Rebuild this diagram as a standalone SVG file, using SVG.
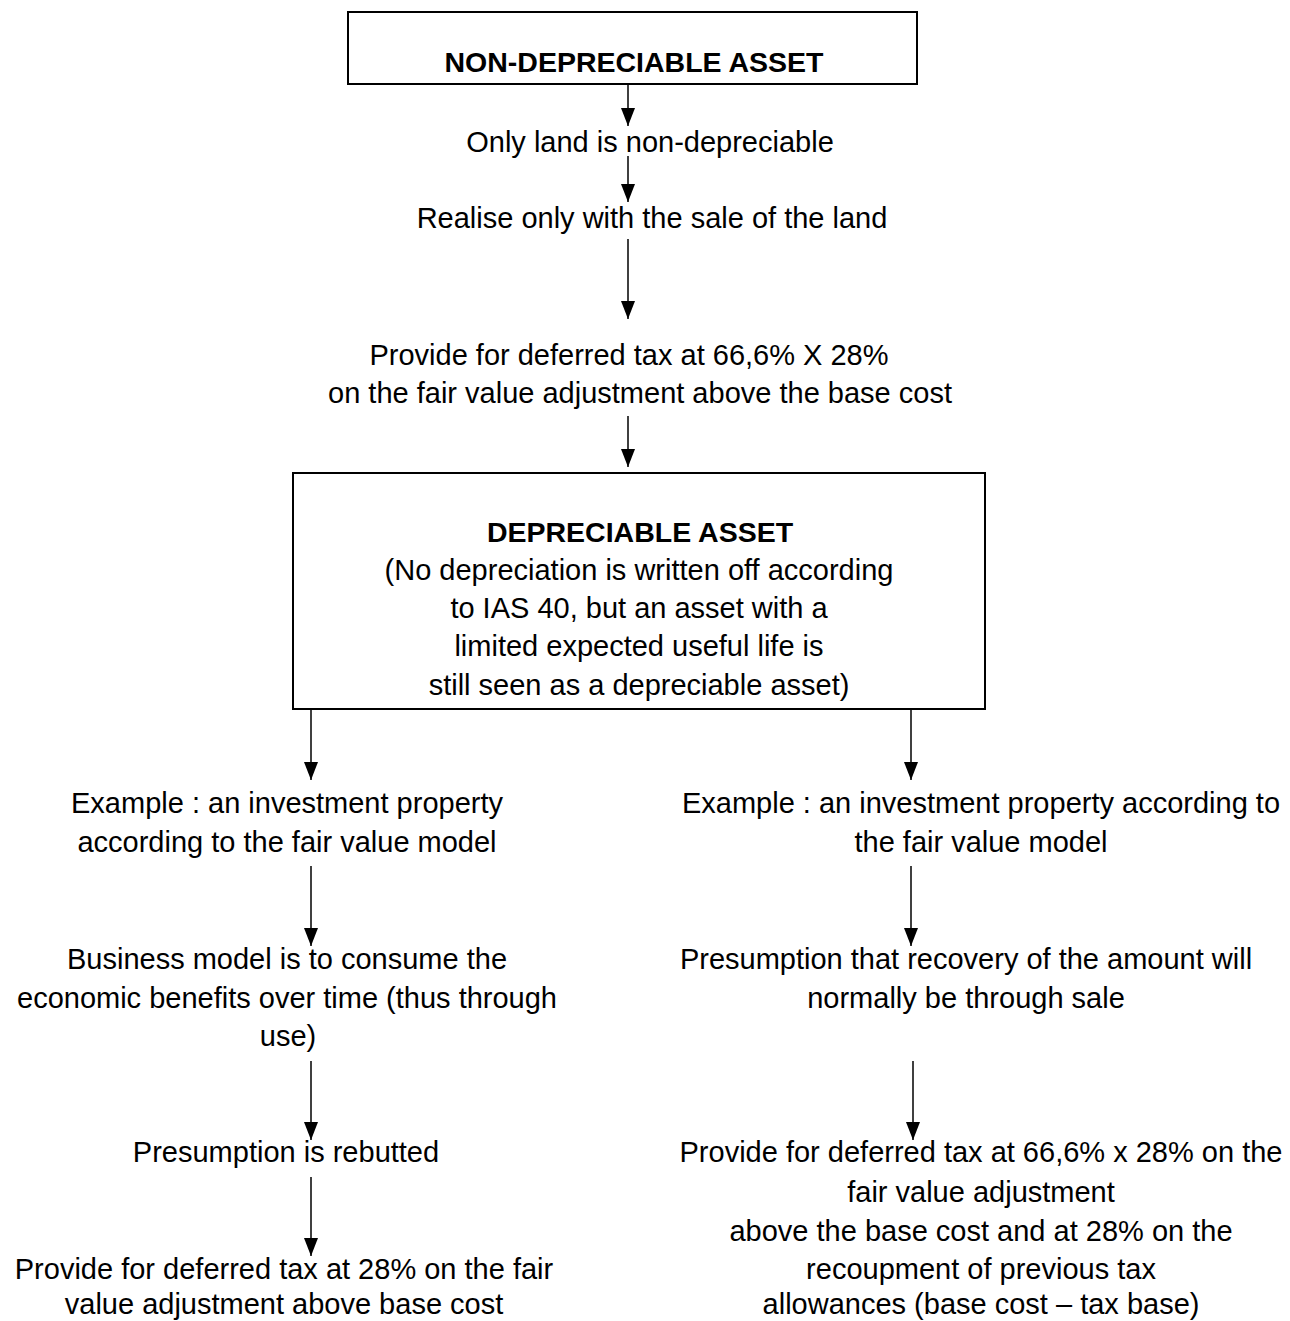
<svg xmlns="http://www.w3.org/2000/svg" width="1290" height="1321" viewBox="0 0 1290 1321">
<style>
text{font-family:"Liberation Sans",Arial,sans-serif;font-size:29px;fill:#000;text-anchor:middle}
.b{font-weight:bold;font-size:28.5px}
.box{fill:#fff;stroke:#000;stroke-width:2}
.c{stroke:#000;stroke-width:1.5;fill:none;marker-end:url(#ah)}
</style>
<defs>
<marker id="ah" markerUnits="userSpaceOnUse" markerWidth="18" markerHeight="14" refX="18" refY="7" orient="auto" viewBox="0 0 18 14">
<path d="M0,0 L18,7 L0,14 Z" fill="#000"/>
</marker>
</defs>
<rect width="1290" height="1321" fill="#fff"/>
<g id="connectors">
<line class="c" x1="628" y1="85" x2="628" y2="126"/>
<line class="c" x1="628" y1="156" x2="628" y2="202"/>
<line class="c" x1="628" y1="239" x2="628" y2="319"/>
<line class="c" x1="628" y1="416" x2="628" y2="467"/>
<line class="c" x1="311" y1="709" x2="311" y2="780"/>
<line class="c" x1="911" y1="709" x2="911" y2="780"/>
<line class="c" x1="311" y1="866" x2="311" y2="946"/>
<line class="c" x1="911" y1="866" x2="911" y2="946"/>
<line class="c" x1="311" y1="1061" x2="311" y2="1140"/>
<line class="c" x1="913" y1="1061" x2="913" y2="1140"/>
<line class="c" x1="311" y1="1177" x2="311" y2="1256"/>
</g>
<g id="n1"><rect class="box" x="348" y="12" width="569" height="72"/><text class="b" x="634" y="72">NON-DEPRECIABLE ASSET</text></g>
<g id="n2"><text x="650" y="152">Only land is non-depreciable</text></g>
<g id="n3"><text x="652" y="228">Realise only with the sale of the land</text></g>
<g id="n4"><text x="629" y="365">Provide for deferred tax at 66,6% X 28%</text><text x="640" y="403">on the fair value adjustment above the base cost</text></g>
<g id="n5"><rect class="box" x="293" y="473" width="692" height="236"/>
<text class="b" x="640" y="542">DEPRECIABLE ASSET</text>
<text x="639" y="580">(No depreciation is written off according</text>
<text x="639" y="618">to IAS 40, but an asset with a</text>
<text x="639" y="656">limited expected useful life is</text>
<text x="639" y="695">still seen as a depreciable asset)</text></g>
<g id="n6"><text x="287" y="813">Example : an investment property</text><text x="287" y="852">according to the fair value model</text></g>
<g id="n7"><text x="287" y="969">Business model is to consume the</text><text x="287" y="1008">economic benefits over time (thus through</text><text x="288" y="1046">use)</text></g>
<g id="n8"><text x="286" y="1162">Presumption is rebutted</text></g>
<g id="n9"><text x="284" y="1279">Provide for deferred tax at 28% on the fair</text><text x="284" y="1314">value adjustment above base cost</text></g>
<g id="n10"><text x="981" y="813">Example : an investment property according to</text><text x="981" y="852">the fair value model</text></g>
<g id="n11"><text x="966" y="969">Presumption that recovery of the amount will</text><text x="966" y="1008">normally be through sale</text></g>
<g id="n12"><text x="981" y="1162">Provide for deferred tax at 66,6% x 28% on the</text><text x="981" y="1202">fair value adjustment</text><text x="981" y="1241">above the base cost and at 28% on the</text><text x="981" y="1279">recoupment of previous tax</text><text x="981" y="1314">allowances (base cost – tax base)</text></g>
</svg>
